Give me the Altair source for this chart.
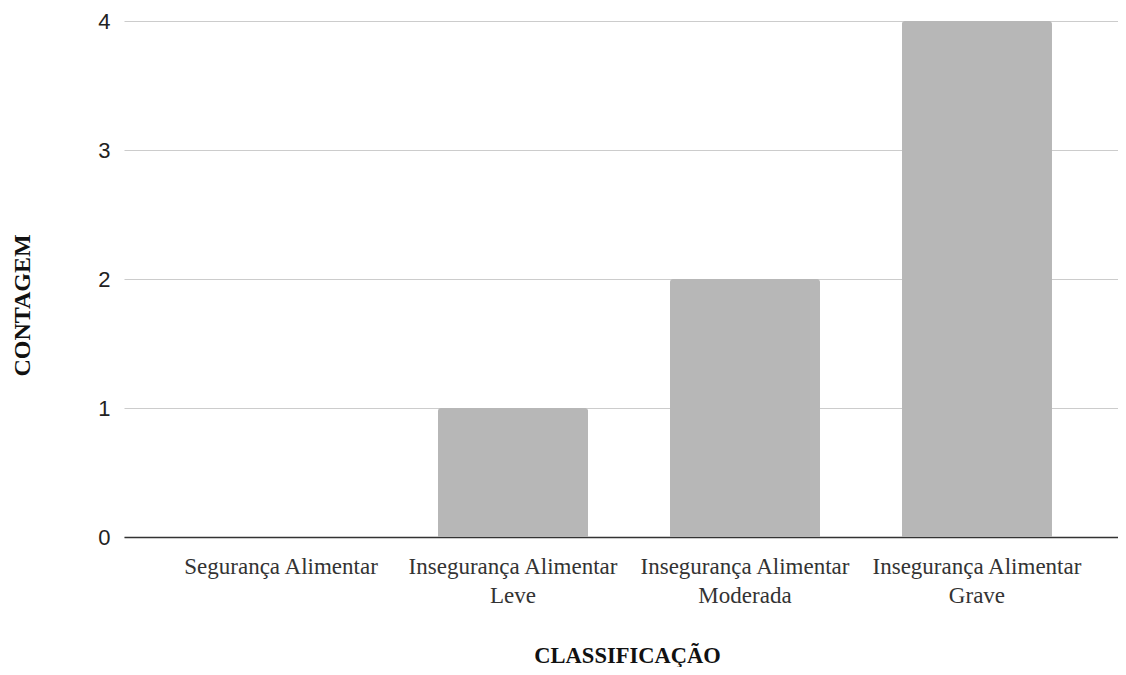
import altair as alt
import pandas as pd

categories = [
    "Segurança Alimentar",
    "Insegurança Alimentar Leve",
    "Insegurança Alimentar Moderada",
    "Insegurança Alimentar Grave",
]
counts = [0, 1, 2, 4]
y_ticks = [0, 1, 2, 3, 4]

df = pd.DataFrame({"Classificacao": categories, "Contagem": counts})

label_expr = (
    "indexof(datum.label, 'Insegurança Alimentar ') == 0 ? "
    "['Insegurança Alimentar', substring(datum.label, 22)] : datum.label"
)

chart = (
    alt.Chart(df)
    .mark_bar(color="#b7b7b7", cornerRadiusTopLeft=3, cornerRadiusTopRight=3)
    .encode(
        x=alt.X(
            "Classificacao:N",
            sort=categories,
            scale=alt.Scale(paddingInner=0.353, paddingOuter=0.319, align=0.554),
            axis=alt.Axis(
                title="CLASSIFICAÇÃO",
                labelAngle=0,
                labelExpr=label_expr,
                labelFont="Liberation Serif",
                labelFontSize=23,
                labelColor="#333333",
                labelPadding=18,
                labelLineHeight=29,
                labelLimit=400,
                ticks=False,
                domainColor="#333333",
                domainWidth=1.6,
                titleFont="Liberation Serif",
                titleFontSize=22.5,
                titleFontWeight="bold",
                titleColor="#111111",
                titleX=503,
                titleY=125,
                titleBaseline="alphabetic",
                titleAlign="center",
            ),
        ),
        y=alt.Y(
            "Contagem:Q",
            scale=alt.Scale(domain=[0, 4], nice=False),
            axis=alt.Axis(
                title="CONTAGEM",
                values=y_ticks,
                format="d",
                labelFont="Liberation Sans",
                labelFontSize=22,
                labelColor="#222222",
                labelPadding=14,
                ticks=False,
                domain=False,
                gridColor="#cccccc",
                gridWidth=1.2,
                titleFont="Liberation Serif",
                titleFontSize=24,
                titleFontWeight="bold",
                titleColor="#111111",
                titleAngle=-90,
                titleX=-102,
                titleY=284,
                titleBaseline="middle",
                titleAlign="center",
            ),
        ),
    )
    .properties(
        width=994,
        height=516,
        autosize=alt.AutoSizeParams(type="none"),
        padding={"left": 116, "top": 13, "right": 0, "bottom": 130},
    )
    .configure_view(stroke=None)
)

chart.save("out.html", embed_options={"renderer": "svg", "actions": False})
